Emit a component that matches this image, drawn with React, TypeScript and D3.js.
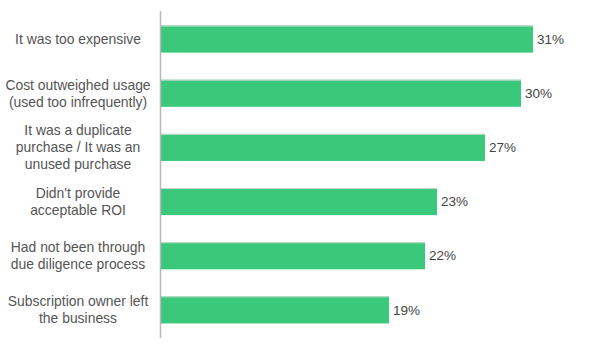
import * as d3 from "d3";

const categories = [
  ["It was too expensive"],
  ["Cost outweighed usage", "(used too infrequently)"],
  ["It was a duplicate", "purchase / It was an", "unused purchase"],
  ["Didn't provide", "acceptable ROI"],
  ["Had not been through", "due diligence process"],
  ["Subscription owner left", "the business"],
];
const values = [31, 30, 27, 23, 22, 19];

const width = 600;
const height = 358;
const axisX = 160.5;
const labelCenterX = 78;

export default function App() {
  const keys = categories.map((c) => c.join(" "));
  const y = d3.scaleBand().domain(keys).range([12, 337]).paddingInner(0.5).paddingOuter(0.25);
  const x = d3.scaleLinear().domain([0, 31]).range([161, 533]);
  const lineH = 17;

  return (
    <svg
      width={width}
      height={height}
      style={{ position: "absolute", left: 0, top: 0, fontFamily: "'Liberation Sans', Arial, sans-serif" }}
    >
      <rect width={width} height={height} fill="#ffffff" />
      {keys.map((k, i) => {
        const by = y(k)!;
        const cy = by + y.bandwidth() / 2;
        const lines = categories[i];
        const firstY = cy - ((lines.length - 1) * lineH) / 2;
        return (
          <g key={k}>
            <rect x={x(0)} y={by} width={x(values[i]) - x(0)} height={y.bandwidth()} fill="#3ac97a" />
            <line x1={x(0)} x2={x(values[i])} y1={by + 0.5} y2={by + 0.5} stroke="#c8d8cf" strokeWidth={1} />
            <text
              x={x(values[i]) + 4}
              y={cy}
              dy="0.35em"
              fontSize={13.5}
              fill="#444444"
            >
              {values[i]}%
            </text>
            {lines.map((ln, j) => (
              <text
                key={j}
                x={labelCenterX}
                y={firstY + j * lineH}
                dy="0.35em"
                textAnchor="middle"
                fontSize={13.9}
                fill="#555555"
              >
                {ln}
              </text>
            ))}
          </g>
        );
      })}
      <line x1={axisX} x2={axisX} y1={11} y2={338} stroke="#b8b8b8" strokeWidth={1.5} />
    </svg>
  );
}
